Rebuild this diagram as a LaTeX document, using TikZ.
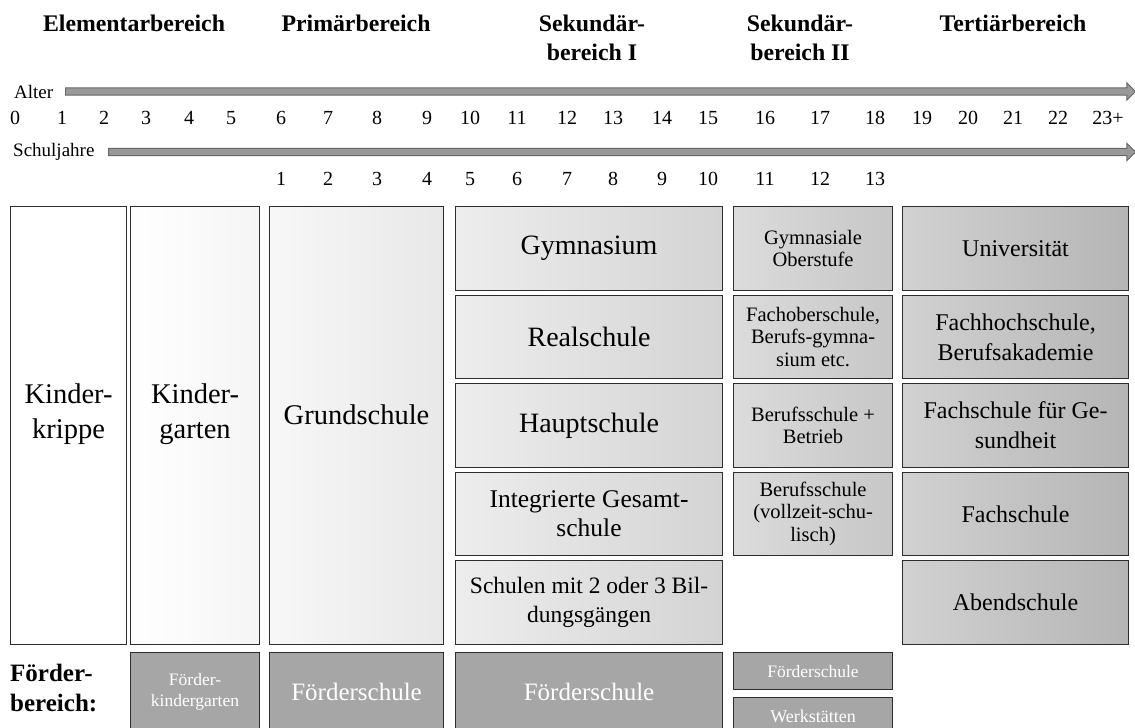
\documentclass[tikz,border=0pt]{standalone}
\usepackage{fontspec}
\setmainfont{Liberation Serif}
\usepackage{tikz}
\usetikzlibrary{shapes.arrows}
\definecolor{boxline}{RGB}{45, 45, 45}
\definecolor{foerdergrau}{RGB}{166, 166, 166}

\tikzset{
    kasten/.style={draw=boxline, line width=1.1pt, anchor=north west, inner sep=2pt, align=center},
    spalteI/.style={kasten, minimum width=267pt, minimum height=83.5pt, left color=black!7, right color=black!17},
    spalteII/.style={kasten, minimum width=159pt, minimum height=83.5pt, left color=black!14, right color=black!22, font=\fontsize{20.5}{22.5}\selectfont},
    spalteT/.style={kasten, minimum width=226pt, minimum height=83.5pt, left color=black!18, right color=black!29, font=\fontsize{24}{30}\selectfont},
    foerder/.style={kasten, fill=foerdergrau, text=white},
    kopf/.style={font=\bfseries\fontsize{23.8}{29}\selectfont, align=center},
    zahl/.style={font=\fontsize{20}{24}\selectfont},
    zeitpfeil/.style={single arrow, draw=black!60, fill=black!40, line width=0.9pt, inner xsep=0pt, inner ysep=3.2pt, single arrow head extend=5pt, anchor=west}
}

\begin{document}
\begin{tikzpicture}[x=1pt, y=-1pt]
        \useasboundingbox (0,0) rectangle (1135,728);

        % Bereiche
        \node[kopf] (elem) at (134,23) {Elementarbereich};
        \node[kopf] (prim) at (356,23) {Primärbereich};
        \node[kopf] (seki) at (592,37.5) {Sekundär-\\bereich I};
        \node[kopf] (sekii) at (800,37.5) {Sekundär-\\bereich II};
        \node[kopf] (tert) at (1013,23) {Tertiärbereich};

        % Alter
        \node[font=\fontsize{19}{22}\selectfont, anchor=west, inner sep=0pt] (alter) at (14,92) {Alter};
        \node[zeitpfeil, minimum height=1070pt, minimum width=17pt] (alterpfeil) at (65,91.5) {};
        \foreach \a/\x [count=\i] in {0/15, 1/62, 2/104, 3/146, 4/189, 5/231, 6/281, 7/328, 8/377, 9/427, 10/470, 11/517, 12/567, 13/613, 14/662, 15/708, 16/765, 17/820, 18/875, 19/922, 20/968, 21/1013, 22/1058, 23+/1108}
            \node[zahl] (alter\i) at (\x,118) {\a};

        % Schuljahre
        \node[font=\fontsize{19}{22}\selectfont, anchor=west, inner sep=0pt] (schuljahre) at (13,152) {Schuljahre};
        \node[zeitpfeil, minimum height=1027pt, minimum width=17pt] (jahrpfeil) at (108,152) {};
        \foreach \a/\x in {1/281, 2/328, 3/377, 4/427, 5/470, 6/517, 7/567, 8/613, 9/662, 10/708, 11/765, 12/820, 13/875}
            \node[zahl] (jahr\a) at (\x,179) {\a};

        % Elementar- und Primaerbereich
        \node[kasten, fill=white, minimum width=116pt, minimum height=437.5pt, text depth=28pt, font=\fontsize{28.5}{35}\selectfont] (krippe) at (10,206) {Kinder-\\krippe};
        \node[kasten, left color=white, right color=black!4, minimum width=129pt, minimum height=437.5pt, text depth=28pt, font=\fontsize{28.5}{35}\selectfont] (garten) at (130,206) {Kinder-\\garten};
        \node[kasten, left color=black!3, right color=black!9, minimum width=174pt, minimum height=437.5pt, text depth=22pt, font=\fontsize{28.5}{35}\selectfont] (grund) at (269,206) {Grundschule};

        % Sekundarbereich I
        \node[spalteI, font=\fontsize{28}{30}\selectfont] (gym) at (455,206) {Gymnasium};
        \node[spalteI, font=\fontsize{28}{30}\selectfont] (real) at (455,294.5) {Realschule};
        \node[spalteI, font=\fontsize{28}{30}\selectfont] (haupt) at (455,383) {Hauptschule};
        \node[spalteI, font=\fontsize{25.5}{29}\selectfont] (gesamt) at (455,471.5) {Integrierte Gesamt-\\schule};
        \node[spalteI, font=\fontsize{23.5}{29}\selectfont] (mehrere) at (455,560) {Schulen mit 2 oder 3 Bil-\\dungsgängen};

        % Sekundarbereich II
        \node[spalteII] (gymob) at (733,206) {Gymnasiale\\Oberstufe};
        \node[spalteII] (fos) at (733,294.5) {Fachoberschule,\\Berufs-gymna-\\sium etc.};
        \node[spalteII] (betrieb) at (733,383) {Berufsschule +\\Betrieb};
        \node[spalteII] (vollzeit) at (733,471.5) {Berufsschule\\(vollzeit-schu-\\lisch)};

        % Tertiaerbereich
        \node[spalteT] (uni) at (902,206) {Universität};
        \node[spalteT] (fh) at (902,294.5) {Fachhochschule,\\Berufsakademie};
        \node[spalteT] (gesund) at (902,383) {Fachschule für Ge-\\sundheit};
        \node[spalteT] (fachschule) at (902,471.5) {Fachschule};
        \node[spalteT] (abend) at (902,560) {Abendschule};

        % Foerderbereich
        \node[font=\bfseries\fontsize{25}{30}\selectfont, anchor=west, align=left, inner sep=0pt] (foerderbereich) at (10,688) {Förder-\\bereich:};
        \node[foerder, minimum width=129pt, minimum height=78pt, font=\fontsize{17.5}{21}\selectfont] (fkiga) at (130,652) {Förder-\\kindergarten};
        \node[foerder, minimum width=174pt, minimum height=78pt, font=\fontsize{25}{28}\selectfont] (fgrund) at (269,652) {Förderschule};
        \node[foerder, minimum width=267pt, minimum height=78pt, font=\fontsize{25}{28}\selectfont] (fseki) at (455,652) {Förderschule};
        \node[foerder, minimum width=159pt, minimum height=37pt, font=\fontsize{17.5}{20}\selectfont] (fsekii) at (733,652) {Förderschule};
        \node[foerder, minimum width=159pt, minimum height=38pt, font=\fontsize{18}{20}\selectfont] (werk) at (733,697) {Werkstätten};
\end{tikzpicture}
\end{document}
